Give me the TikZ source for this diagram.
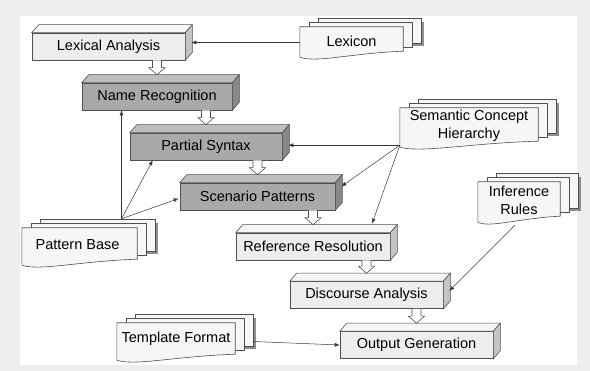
\documentclass[tikz,border=0pt]{standalone}
\usepackage{fontspec}
\setmainfont{Liberation Sans}
\usetikzlibrary{calc, arrows.meta}

\definecolor{framegray}{HTML}{EEEEEC}
\definecolor{edgegray}{HTML}{505050}
\definecolor{linegray}{HTML}{383838}
\definecolor{lightfront}{HTML}{EDEDED}
\definecolor{lighttop}{HTML}{F5F5F5}
\definecolor{lightside}{HTML}{C4C4C4}
\definecolor{darkfront}{HTML}{A9A9A9}
\definecolor{darktop}{HTML}{BEBEBE}
\definecolor{darkside}{HTML}{888888}
\definecolor{sheetgray}{HTML}{F6F6F6}
\definecolor{shadowgray}{HTML}{8E8E8E}

% 3D faces (top and side) of a process box
\newcommand{\boxfaces}[3]{%
  \draw[edge, fill=#2] (#1.north west) -- ++(7,-8) -- ($(#1.north east)+(7,-8)$) -- (#1.north east) -- cycle;
  \draw[edge, fill=#3] (#1.north east) -- ++(7,-8) -- ($(#1.south east)+(7,-8)$) -- (#1.south east) -- cycle;
}

% stack of sheets with wavy foot behind a text node
\newcommand{\sheetstack}[1]{%
  \fill[shadowgray] ($(#1.north west)+(21,-5)$) rectangle ($(#1.south east)+(21,-11)$);
  \foreach \k in {2,1} {
    \draw[edge, fill=sheetgray] ($(#1.north west)+({9*\k},{-4*\k})$) rectangle ($(#1.south east)+({9*\k},{-4*\k-6})$);
  }
  \draw[edge, fill=sheetgray] (#1.south west) -- (#1.north west) -- (#1.north east) -- ($(#1.south east)+(0,-6)$)
    .. controls ($(#1.south west)!0.5!(#1.south east)+(0,-4)$) and ($(#1.south west)!0.15!(#1.south east)+(0,6)$) .. (#1.south west) -- cycle;
}

% hollow block arrow from upper box down to the top face of lower box
\newcommand{\flowarrow}[2]{%
  \draw[hollow] let \p1=(#2.north), \p2=(#1.south) in
    (\x1-4.5pt,\y2) -- (\x1-4.5pt,\y1+15pt) -- (\x1-8pt,\y1+15pt) -- (\x1,\y1+8pt)
    -- (\x1+8pt,\y1+15pt) -- (\x1+4.5pt,\y1+15pt) -- (\x1+4.5pt,\y2);
}

\tikzset{
  edge/.style={draw=edgegray, line width=0.6pt},
  label font/.style={font=\fontsize{14.5}{17.5}\selectfont},
  procbox/.style={edge, fill=lightfront, label font, minimum height=27pt, inner sep=0pt},
  darkbox/.style={procbox, fill=darkfront},
  docbox/.style={label font, align=center, inner sep=0pt},
  link/.style={draw=linegray, line width=0.5pt, -{Latex[length=5pt, width=4pt]}},
  hollow/.style={draw=edgegray, fill=white, line width=0.6pt},
}

\begin{document}
\begin{tikzpicture}[x=1pt, y=-1pt]

% Frame
\useasboundingbox (0,0) rectangle (590,371);
\fill[framegray] (0,0) rectangle (590,371);
\fill[white] (20,16) rectangle (577,365);

% Process boxes
\node[procbox, minimum width=153pt] (lex) at (108.5,46.5) {Lexical Analysis};
\node[darkbox, minimum width=150pt] (namerec) at (157,96.5) {Name Recognition};
\node[darkbox, minimum width=152pt] (partial) at (206,146.5) {Partial Syntax};
\node[darkbox, minimum width=155pt] (scen) at (257.5,196.5) {Scenario Patterns};
\node[procbox, minimum width=154pt] (ref) at (313,246.5) {Reference Resolution};
\node[procbox, minimum width=153pt] (disc) at (366.5,295) {Discourse Analysis};
\node[procbox, minimum width=153pt] (out) at (416.5,345) {Output Generation};

\boxfaces{lex}{lighttop}{lightside}
\boxfaces{namerec}{darktop}{darkside}
\boxfaces{partial}{darktop}{darkside}
\boxfaces{scen}{darktop}{darkside}
\boxfaces{ref}{lighttop}{lightside}
\boxfaces{disc}{lighttop}{lightside}
\boxfaces{out}{lighttop}{lightside}

% Knowledge sources (sheets drawn first, text on top)
\path[docbox] (351.5,42) node[minimum width=103pt, minimum height=30pt] (lexicon) {};
\path[docbox] (469,127.5) node[minimum width=138pt, minimum height=39pt] (sem) {};
\path[docbox] (519,202) node[minimum width=82pt, minimum height=40pt] (infer) {};
\path[docbox] (79.5,246.5) node[minimum width=115pt, minimum height=37pt] (pattern) {};
\path[docbox] (176,341.5) node[minimum width=118pt, minimum height=37pt] (templ) {};

\sheetstack{lexicon}
\sheetstack{sem}
\sheetstack{infer}
\sheetstack{pattern}
\sheetstack{templ}

\node[docbox] at ($(lexicon.center)+(0,-1)$) {Lexicon};
\node[docbox] at ($(sem.center)+(0,-1.5)$) {Semantic Concept\\Hierarchy};
\node[docbox] at ($(infer.center)+(0,-1.5)$) {Inference\\Rules};
\node[docbox] at ($(pattern.center)+(-2,-1.5)$) {Pattern Base};
\node[docbox] at ($(templ.center)+(0,-2.5)$) {Template Format};

% Hollow flow arrows
\flowarrow{lex}{namerec}
\flowarrow{namerec}{partial}
\flowarrow{partial}{scen}
\flowarrow{scen}{ref}
\flowarrow{ref}{disc}
\flowarrow{disc}{out}

% Arrow ends
\coordinate (lexside) at ($(lex.east)+(6,-4)$);
\coordinate (semfoot) at ($(sem.south west)+(0,-2)$);
\coordinate (patfoot) at ($(pattern.north)+(42,-9)$);
\coordinate (inferfoot) at ($(infer.south)+(-4,3)$);

% Links
\draw[link] (lexicon.west |- lexside) -- (lexside);
\draw[link] (semfoot) -- (semfoot -| {$(partial.east)+(6,0)$});
\draw[link] (semfoot) -- ($(scen.east)+(6,-10)$);
\draw[link] (semfoot) -- ($(ref.north)+(59,-9)$);
\draw[link] (patfoot) -- (patfoot |- namerec.south);
\draw[link] (patfoot) -- ($(partial.south west)+(23,0)$);
\draw[link] (patfoot) -- ($(scen.west)+(-1,2)$);
\draw[link] (inferfoot) -- ($(disc.east)+(6,-4)$);
\draw[link] ($(templ.east)+(18,0)$ |- out.west) -- (out.west);

\end{tikzpicture}
\end{document}
